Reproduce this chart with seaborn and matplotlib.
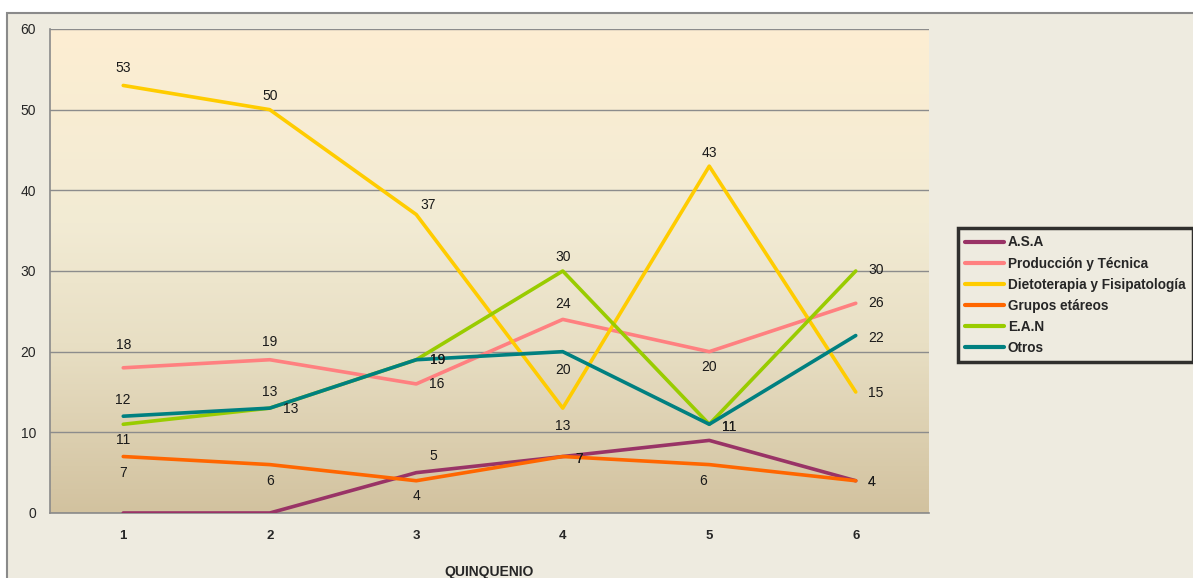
import numpy as np
import pandas as pd
import matplotlib
matplotlib.use("Agg")
import matplotlib.pyplot as plt
from matplotlib.patches import Rectangle
from matplotlib.colors import LinearSegmentedColormap
from matplotlib.lines import Line2D
import seaborn as sns

# Data
quinquenio = [1, 2, 3, 4, 5, 6]
asa = [0, 0, 5, 7, 9, 4]
produccion = [18, 19, 16, 24, 20, 26]
dietoterapia = [53, 50, 37, 13, 43, 15]
grupos = [7, 6, 4, 7, 6, 4]
ean = [11, 13, 19, 30, 11, 30]
otros = [12, 13, 19, 20, 11, 22]
series_names = ["A.S.A", "Producción y Técnica", "Dietoterapia y Fisipatología",
                "Grupos etáreos", "E.A.N", "Otros"]
y_ticks = [0, 10, 20, 30, 40, 50, 60]

colors = ["#993366", "#FF8080", "#FFCC00", "#FF6600", "#99CC00", "#008080"]

# where each data label sits relative to its point (pixels, y up); None = no label
label_offsets = [
    [None, None, (17, 17), (16, -2), None, (16, -1)],
    [(0, 23), (0, 18), (20, 0), (0, 15), (0, -15), (20, 0)],
    [(0, 17), (0, 14), (12, 10), (0, -18), (0, 13), (20, -1)],
    [(0, -16), (0, -16), (0, -15), (16, -2), (-6, -16), (16, -1)],
    [(0, -16), (21, -1), (21, 0), (0, 14), (20, -3), (20, 1)],
    [(0, 16), (0, 16), (21, 0), (0, -18), (20, -3), (20, -2)],
]

values = [asa, produccion, dietoterapia, grupos, ean, otros]
df = pd.DataFrame({
    "quinquenio": quinquenio * len(series_names),
    "valor": [v for vals in values for v in vals],
    "serie": [n for n in series_names for _ in quinquenio],
})

sns.set_style("white")
plt.rcParams["font.family"] = ["Liberation Sans", "DejaVu Sans"]

W, H = 1193, 578
fig = plt.figure(figsize=(W / 100, H / 100), dpi=100)
fig.patch.set_facecolor("white")

# chart area background with grey border (runs off right/bottom edges)
fig.patches.append(Rectangle((7 / W, -0.1), 1.2, 1.1 - 13 / H, transform=fig.transFigure,
                             facecolor="#EEEBE0", edgecolor="#8a8a8a", lw=1.5, zorder=-10))

ax = fig.add_axes([50 / W, (H - 513) / H, (929 - 50) / W, (513 - 29) / H])
ax.set_facecolor("none")

# plot area gradient
grad_cmap = LinearSegmentedColormap.from_list(
    "bg", [(0.0, "#D2C29F"), (0.35, "#E8DFC4"), (0.6, "#F2EBD4"), (1.0, "#FDEED2")])
grad = np.linspace(0, 1, 256).reshape(-1, 1)
ax.imshow(grad, extent=(0, 1, 0, 1), transform=ax.transAxes, aspect="auto",
          cmap=grad_cmap, origin="lower", zorder=0)

sns.lineplot(data=df, x="quinquenio", y="valor", hue="serie", hue_order=series_names,
             palette=colors, linewidth=2.6, ax=ax, legend=False, zorder=3)

# data labels
for vals, offs in zip(values, label_offsets):
    for x, v, off in zip(quinquenio, vals, offs):
        if off is None:
            continue
        ax.annotate(str(v), (x, v), xytext=off, textcoords="offset pixels",
                    ha="center", va="center", fontsize=10, color="#1a1a1a", zorder=5)

ax.set_xlim(0.5, 6.5)
ax.set_ylim(0, 60)
ax.set_yticks(y_ticks)
ax.set_yticklabels([str(t) for t in y_ticks], fontsize=10)
ax.set_xticks(quinquenio)
ax.set_xticklabels([str(q) for q in quinquenio], fontsize=9.5, fontweight="bold")
ax.set_xticks([0.5 + i for i in range(7)], minor=True)
ax.tick_params(axis="x", which="major", length=0, pad=12)
ax.tick_params(axis="x", which="minor", length=5, color="#8a8a8a", direction="out")
ax.tick_params(axis="y", length=5, color="#8a8a8a", direction="out", pad=5)
ax.yaxis.grid(True, color="#8c8c8c", lw=1)
ax.set_axisbelow(True)

for side in ["top", "right"]:
    ax.spines[side].set_visible(False)
for side in ["left", "bottom"]:
    ax.spines[side].set_color("#8a8a8a")
    ax.spines[side].set_linewidth(1.2)

ax.set_xlabel("QUINQUENIO", fontsize=10, fontweight="bold")
ax.set_ylabel("")
ax.xaxis.set_label_coords(0.5, (513 - 572) / 484)
ax.xaxis.label.set_va("center")

handles = [Line2D([0], [0], color=c, lw=3) for c in colors]
leg = fig.legend(handles, series_names, loc="upper left",
                 bbox_to_anchor=(958 / W, 1 - 228 / H), frameon=True, fancybox=False,
                 prop={"size": 9.8, "weight": "bold"}, handlelength=2.8, handletextpad=0.3,
                 labelspacing=0.52, borderpad=0.55, borderaxespad=0)
leg.get_frame().set_edgecolor("black")
leg.get_frame().set_linewidth(2.5)
leg.get_frame().set_facecolor("#EEEBE0")

fig.savefig("out.png", dpi=100)
